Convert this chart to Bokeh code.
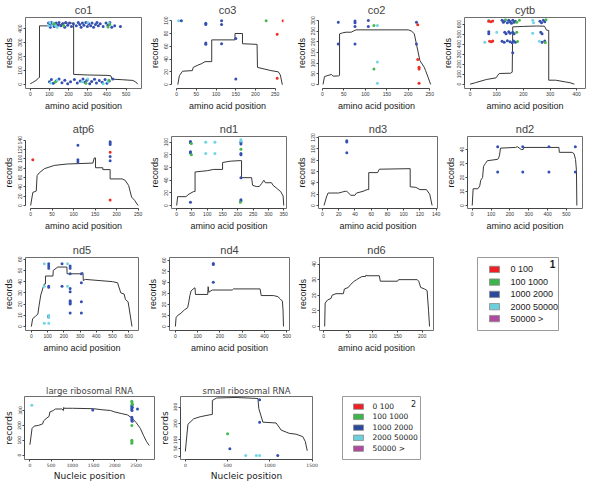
from bokeh.plotting import figure
from bokeh.layouts import row, column
from bokeh.models import Range1d, FixedTicker
from bokeh.core.properties import value
from bokeh.embed import file_html
from bokeh.resources import INLINE

categories = ["0 100", "100 1000", "1000 2000", "2000 50000", "50000 >"]
legend_colors = ["#ee2025", "#3cb54a", "#2c4a9c", "#6ccfdc", "#b04a9f"]
point_colors = ["#ef2d27", "#45b84c", "#3550b0", "#72d5e4", "#b04a9f"]

# ---------------- curves (records along position) ----------------
co1_x = [0, 10, 30, 43, 48, 48, 100, 105, 160, 165, 226, 226, 300, 400, 420, 426, 480, 535, 550, 560]
co1_y = [5, 12, 29, 46, 50, 420, 420, 428, 428, 440, 440, 72, 68, 65, 62, 38, 34, 29, 18, 2]
co3_x = [3, 7, 15, 40, 42, 52, 64, 72, 87, 89, 89, 120, 148, 148, 167, 167, 204, 205, 239, 258, 263, 268]
co3_y = [0, 14, 21, 22, 27, 30, 33, 36, 36, 36, 70, 70, 70, 80, 80, 64, 63, 27, 22, 20, 15, 0]
co2_x = [1.5, 5, 13, 21, 25, 38, 40, 40, 47, 55, 67, 78, 200, 208, 214, 227, 237, 240, 246, 252]
co2_y = [0, 37, 42, 47, 39, 40, 42, 237, 242, 245, 245, 256, 256, 250, 237, 112, 81, 66, 34, 0]
cytb_x = [0, 20, 61, 97, 109, 152, 158, 160, 200, 250, 279, 287, 295, 295, 321, 357, 375, 391]
cytb_y = [0, 15, 47, 63, 107, 110, 120, 573, 578, 582, 580, 540, 538, 40, 40, 23, 15, 0]
atp6_x = [0, 5, 13, 15, 20, 32, 55, 85, 145, 148, 151, 151, 168, 168, 185, 185, 213, 220, 228, 235, 242, 250]
atp6_y = [0, 28, 31, 64, 70, 79, 86, 89, 91, 102, 102, 81, 81, 77, 77, 57, 57, 54, 43, 18, 11, 0]
nd1_x = [0, 3, 30, 40, 55, 60, 60, 100, 120, 150, 150, 175, 210, 212, 212, 245, 248, 260, 270, 278, 285, 290, 310, 315, 330, 340, 348, 350]
nd1_y = [0, 14, 14, 18, 22, 22, 53, 55, 57, 57, 68, 70, 71, 71, 44, 44, 32, 30, 30, 35, 40, 36, 36, 32, 26, 22, 15, 0]
nd3_x = [2, 5, 7, 20, 25, 28, 30, 35, 40, 42, 50, 55, 57, 57, 68, 70, 108, 108, 115, 120, 128, 132, 135]
nd3_y = [0, 15, 22, 22, 24, 25, 25, 18, 18, 22, 25, 28, 28, 58, 58, 64, 65, 33, 32, 28, 28, 20, 0]
nd2_x = [0, 5, 30, 40, 45, 55, 60, 70, 80, 135, 140, 145, 150, 230, 240, 260, 270, 275, 460, 462, 530, 540, 548, 553, 555]
nd2_y = [0, 12, 12, 14, 18, 20, 28, 30, 32, 33, 34, 36, 41, 41.5, 42, 40, 40, 41.5, 41.5, 38, 38, 37, 33, 25, 0]
nd5_x = [0, 8, 24, 40, 48, 58, 73, 80, 87, 87, 133, 135, 163, 219, 220, 302, 318, 320, 332, 500, 531, 551, 571, 580, 596, 606, 620]
nd5_y = [0, 7, 9, 11, 19, 28, 35, 38, 38, 45, 45, 50, 53, 53, 47, 47, 48, 41, 42, 40, 39, 30, 29, 24, 22, 13, 0]
nd4_x = [0, 3, 10, 25, 40, 55, 60, 65, 70, 80, 88, 90, 145, 147, 150, 165, 255, 260, 380, 385, 440, 460, 470, 480, 483, 485]
nd4_y = [0, 8, 10, 12, 15, 17, 22, 28, 32, 34, 35, 29, 29, 36, 31, 33, 33, 34, 34, 28, 28, 27, 25, 23, 15, 0]
nd6_x = [2, 3, 8, 15, 17, 25, 40, 42, 50, 55, 62, 67, 72, 78, 85, 86, 88, 113, 115, 150, 152, 190, 193, 197, 205, 210, 213, 215]
nd6_y = [0, 15, 17, 18, 20, 21, 21, 24, 25, 27, 29, 30, 31, 32, 32, 33, 32.5, 32.5, 29, 29, 30, 30, 29, 25, 24, 23, 10, 0]
large_x = [0, 50, 100, 200, 300, 320, 400, 450, 470, 550, 600, 750, 790, 795, 800, 1000, 1500, 1700, 1900, 2000, 2150, 2300, 2400, 2500, 2600, 2680, 2750, 2812]
large_y = [70, 180, 195, 200, 210, 230, 250, 260, 290, 300, 310, 310, 300, 320, 315, 315, 312, 305, 300, 290, 280, 270, 250, 220, 180, 130, 90, 65]
small_x = [0, 31, 98, 176, 293, 320, 320, 371, 600, 859, 870, 918, 1074, 1100, 1133, 1230, 1310, 1390, 1420, 1443]
small_y = [30, 195, 228, 241, 253, 255, 340, 355, 358, 352, 290, 208, 203, 185, 160, 140, 135, 120, 90, 34]

# ---------------- points per category ----------------
co1_blue_x = [95, 100, 105, 110, 118, 125, 135, 145, 150, 160, 170, 180, 185, 195, 205, 215, 225, 240, 250, 258, 265, 272, 280, 290, 298, 305, 315, 322, 330, 340, 348, 355, 365, 380, 395, 405, 415, 425, 440, 470,
              100, 110, 120, 135, 150, 165, 180, 195, 210, 230, 245, 260, 275, 285, 295, 310, 320, 335, 345, 360, 375, 390, 400, 412, 430]
co1_blue_y = [440, 425, 410, 445, 430, 415, 440, 425, 445, 420, 435, 410, 445, 425, 440, 415, 435, 420, 445, 430, 410, 440, 425, 445, 415, 435, 420, 440, 410, 430, 445, 420, 435, 415, 440, 425, 445, 410, 420, 415,
              20, 35, 8, 25, 40, 12, 30, 5, 20, 35, 10, 25, 40, 15, 30, 5, 22, 38, 10, 28, 15, 35, 8, 25, 40]
co1_cyan_x = [95, 102, 112, 120, 130, 140, 300, 410, 105, 140, 270, 300, 380, 405]
co1_cyan_y = [420, 445, 420, 440, 425, 410, 445, 440, 10, 30, 20, 40, 5, 20]
co1_green_x = [125, 175, 405, 415, 130, 290, 410]
co1_green_y = [435, 420, 412, 430, 18, 8, 30]

co3_cyan_x = [5]
co3_cyan_y = [100]
co3_blue_x = [12, 74, 74, 114, 114, 74, 74, 114, 150, 150]
co3_blue_y = [100, 96, 94, 100, 94, 65, 63, 64, 72, 9]
co3_green_x = [227]
co3_green_y = [100]
co3_red_x = [270, 255, 255]
co3_red_y = [100, 79, 10]

co2_blue_x = [37, 37, 76, 76, 76, 76, 107, 107, 219, 219]
co2_blue_y = [292, 190, 297, 289, 272, 190, 300, 272, 292, 190]
co2_green_x = [120, 120]
co2_green_y = [277, 73]
co2_cyan_x = [128, 128, 128]
co2_cyan_y = [277, 105, 6]
co2_red_x = [222, 222, 225, 225, 225]
co2_red_y = [280, 117, 81, 73, 6]

cytb_red_x = [70, 78, 85, 73, 80, 85]
cytb_red_y = [630, 625, 632, 430, 425, 432]
cytb_blue_x = [120, 125, 130, 140, 145, 150, 155, 160, 165, 170, 262, 268, 275, 280, 70, 70, 130, 135, 145, 150, 160, 165,
               265, 270, 120, 128, 140, 150, 158, 163, 170, 270, 280, 160]
cytb_blue_y = [640, 620, 635, 615, 640, 625, 610, 640, 620, 630, 630, 615, 640, 625, 525, 505, 520, 505, 525, 510, 520, 505,
               520, 505, 430, 420, 435, 425, 415, 432, 420, 420, 432, 315]
cytb_green_x = [133, 175, 185, 285, 175, 178, 282]
cytb_green_y = [645, 620, 640, 645, 520, 428, 418]
cytb_cyan_x = [70, 235, 238, 100, 235, 55, 260]
cytb_cyan_y = [640, 640, 615, 520, 510, 420, 430]

atp6_red_x = [5, 185, 185]
atp6_red_y = [98, 114, 12]
atp6_blue_x = [110, 110, 110, 185, 185, 185, 185, 185]
atp6_blue_y = [129, 98, 94, 137, 134, 131, 105, 96]

nd1_blue_x = [45, 45, 45, 45, 45, 210, 210, 210, 210, 210, 210, 210]
nd1_blue_y = [101, 99, 85, 83, 5, 100, 97, 82, 80, 44, 9, 7]
nd1_green_x = [48, 48, 210, 208]
nd1_green_y = [98, 80, 89, 5]
nd1_cyan_x = [95, 125, 95, 125, 210, 210]
nd1_cyan_y = [100, 100, 82, 82, 104, 102]

nd3_blue_x = [30, 30, 30]
nd3_blue_y = [114, 112, 93]

nd2_blue_x = [135, 268, 407, 547, 135, 268, 407, 547]
nd2_blue_y = [42, 42, 42, 42, 24, 24, 24, 24]

nd5_blue_x = [107, 107, 107, 107, 107, 105, 189, 239, 239, 239, 189, 239, 239, 239, 239, 239, 239, 239, 308, 308, 308, 308]
nd5_blue_y = [56, 54, 52, 36, 35, 9, 56, 54, 52, 47, 36, 34, 31, 23, 22, 21, 20, 12, 47, 39, 22, 12]
nd5_cyan_x = [80, 80, 107, 107, 80, 107, 223, 223]
nd5_cyan_y = [56, 36, 10, 8, 3, 3, 56, 36]

nd4_blue_x = [170, 170, 170]
nd4_blue_y = [57, 56, 40]

large_cyan_x = [45, 2395, 2405, 2398]
large_cyan_y = [335, 335, 318, 305]
large_blue_x = [1480, 2535, 2400, 2410, 2400, 2405, 2400, 2405, 2400, 2410]
large_blue_y = [304, 310, 330, 322, 312, 300, 255, 245, 236, 228]
large_green_x = [2400, 2405, 2420, 2400, 2400, 2405, 2400]
large_green_y = [362, 350, 340, 200, 100, 90, 80]

small_blue_x = [879, 879, 527, 1094]
small_blue_y = [345, 208, 47, 6]
small_green_x = [500]
small_green_y = [138]
small_cyan_x = [715, 840, 879]
small_cyan_y = [6, 6, 6]

# ---------------- ticks ----------------
co1_xt, co1_yt = [0, 100, 200, 300, 400, 500], [0, 100, 200, 300, 400]
co3_xt, co3_yt = [0, 50, 100, 150, 200, 250], [0, 20, 40, 60, 80, 100]
co2_xt, co2_yt = [0, 50, 100, 150, 200, 250], [0, 50, 100, 150, 200, 250, 300]
cytb_xt, cytb_yt = [0, 100, 200, 300, 400], [0, 100, 200, 300, 400, 500, 600]
atp6_xt, atp6_yt = [0, 50, 100, 150, 200, 250], [0, 20, 40, 60, 80, 100, 120, 140]
nd1_xt, nd1_yt = [0, 50, 100, 150, 200, 250, 300, 350], [0, 20, 40, 60, 80, 100]
nd3_xt, nd3_yt = [0, 20, 40, 60, 80, 100, 120, 140], [0, 20, 40, 60, 80, 100, 120]
nd2_xt, nd2_yt = [0, 100, 200, 300, 400, 500], [0, 10, 20, 30, 40]
nd5_xt, nd5_yt = [0, 100, 200, 300, 400, 500, 600], [0, 10, 20, 30, 40, 50, 60]
nd4_xt, nd4_yt = [0, 100, 200, 300, 400, 500], [0, 10, 20, 30, 40, 50, 60]
nd6_xt, nd6_yt = [0, 50, 100, 150, 200], [0, 10, 20, 30, 40]
large_xt, large_yt = [0, 500, 1000, 1500, 2000, 2500], [0, 100, 200, 300]
small_xt, small_yt = [0, 500, 1000, 1500], [0, 50, 100, 200, 300]

BLUE, CYAN, GREEN, RED = 2, 3, 1, 0


def panel(title, cx, cy, pts, xr, yr, xt, yt, w, h, bl, br, bt, bb, box=True, rib=False):
    p = figure(width=w, height=h, x_range=Range1d(*xr), y_range=Range1d(*yr),
               output_backend="svg", toolbar_location=None, title=title,
               min_border_left=bl, min_border_right=br, min_border_top=bt, min_border_bottom=bb)
    p.xgrid.visible = False
    p.ygrid.visible = False
    p.background_fill_color = "white"
    p.border_fill_color = "white"
    p.outline_line_color = "#6e6e6e" if box else None
    p.outline_line_width = 1
    p.line(cx, cy, line_color="#383838", line_width=1)
    for xs, ys, k in pts:
        p.scatter(xs, ys, size=3.0, marker="circle", fill_color=point_colors[k], line_color=None)
    fnt = "DejaVu Sans" if rib else "Liberation Sans"
    p.title.text_font = fnt
    p.title.text_font_size = "8.5px" if rib else "11px"
    p.title.text_font_style = "normal"
    p.title.align = "center"
    p.title.standoff = 1 if rib else 3
    p.xaxis.ticker = FixedTicker(ticks=xt)
    p.yaxis.ticker = FixedTicker(ticks=yt)
    p.xaxis.bounds = (xt[0], xt[-1])
    p.yaxis.bounds = (yt[0], yt[-1])
    p.xaxis.axis_label = "Nucleic position" if rib else "amino acid position"
    p.yaxis.axis_label = "records"
    for ax in p.xaxis + p.yaxis:
        ax.major_tick_out = 2
        ax.major_tick_in = 0
        ax.minor_tick_out = 0
        ax.minor_tick_in = 0
        ax.axis_line_color = "#444444"
        ax.major_tick_line_color = "#444444"
        ax.major_label_text_font = "DejaVu Sans" if rib else "Liberation Sans"
        ax.major_label_text_font_size = "4.5px" if rib else "5px"
        ax.major_label_text_color = "#333333"
        ax.major_label_standoff = 1
        ax.axis_label_standoff = 1 if rib else 2
        ax.axis_label_text_font = fnt
        ax.axis_label_text_font_style = "normal"
        ax.axis_label_text_color = "#1a1a1a"
        ax.axis_label_text_font_size = "9px"
    p.yaxis.major_label_orientation = "vertical"
    return p


def legend_fig(w, h, bl, br, bt, bb, bw, bh, sq_x, tx, ys, num, nx, ny, fnt, fsize, nsize, nstyle):
    p = figure(width=w, height=h, x_range=Range1d(0, bw), y_range=Range1d(bh, 0),
               output_backend="svg", toolbar_location=None,
               x_axis_location=None, y_axis_location=None,
               min_border_left=bl, min_border_right=br, min_border_top=bt, min_border_bottom=bb)
    p.xgrid.visible = False
    p.ygrid.visible = False
    p.outline_line_color = "#9a9a9a"
    p.rect(x=[sq_x] * len(categories), y=ys, width=10, height=8,
           fill_color=legend_colors, line_color="#8a8a8a", line_width=0.8)
    p.text(x=[tx] * len(categories), y=ys, text=categories, text_font=value(fnt),
           text_font_size=fsize, text_baseline="middle", text_align="left", text_color="#1a1a1a")
    p.text(x=[nx], y=[ny], text=[num], text_font=value(fnt), text_font_size=nsize,
           text_font_style=nstyle, text_baseline="middle", text_align="center", text_color="#1a1a1a")
    return p


# Row 1
p_co1 = panel("co1", co1_x, co1_y,
              [(co1_blue_x, co1_blue_y, BLUE), (co1_cyan_x, co1_cyan_y, CYAN), (co1_green_x, co1_green_y, GREEN)],
              (-25, 580), (-29, 480), co1_xt, co1_yt, 146, 118, 25, 5, 17, 30)
p_co3 = panel("co3", co3_x, co3_y,
              [(co3_cyan_x, co3_cyan_y, CYAN), (co3_blue_x, co3_blue_y, BLUE), (co3_green_x, co3_green_y, GREEN), (co3_red_x, co3_red_y, RED)],
              (-13, 271), (-6, 105), co3_xt, co3_yt, 142, 118, 24, 5, 17, 30, box=False)
p_co2 = panel("co2", co2_x, co2_y,
              [(co2_blue_x, co2_blue_y, BLUE), (co2_green_x, co2_green_y, GREEN), (co2_cyan_x, co2_cyan_y, CYAN), (co2_red_x, co2_red_y, RED)],
              (-9, 261), (-19, 314), co2_xt, co2_yt, 151, 118, 30, 5, 17, 30, box=False)
p_cytb = panel("cytb", cytb_x, cytb_y,
               [(cytb_blue_x, cytb_blue_y, BLUE), (cytb_cyan_x, cytb_cyan_y, CYAN), (cytb_green_x, cytb_green_y, GREEN), (cytb_red_x, cytb_red_y, RED)],
               (-21, 433), (-43, 667), cytb_xt, cytb_yt, 153, 118, 25, 7, 17, 30)

# Row 2
p_atp6 = panel("atp6", atp6_x, atp6_y,
               [(atp6_blue_x, atp6_blue_y, BLUE), (atp6_red_x, atp6_red_y, RED)],
               (-12, 258), (-6.4, 148), atp6_xt, atp6_yt, 146, 118, 24, 5, 18, 28, box=False)
p_nd1 = panel("nd1", nd1_x, nd1_y,
              [(nd1_blue_x, nd1_blue_y, BLUE), (nd1_green_x, nd1_green_y, GREEN), (nd1_cyan_x, nd1_cyan_y, CYAN)],
              (-17, 359), (-4.7, 109), nd1_xt, nd1_yt, 145, 118, 25, 5, 18, 28)
p_nd3 = panel("nd3", nd3_x, nd3_y, [(nd3_blue_x, nd3_blue_y, BLUE)],
              (-4.8, 141.6), (-5.3, 121.7), nd3_xt, nd3_yt, 151, 118, 27, 5, 18, 28)
p_nd2 = panel("nd2", nd2_x, nd2_y, [(nd2_blue_x, nd2_blue_y, BLUE)],
              (-25, 585), (-2.1, 49.3), nd2_xt, nd2_yt, 150, 118, 22, 10, 18, 28)

# Row 3
p_nd5 = panel("nd5", nd5_x, nd5_y,
              [(nd5_blue_x, nd5_blue_y, BLUE), (nd5_cyan_x, nd5_cyan_y, CYAN)],
              (-36, 660), (-3.5, 61.5), nd5_xt, nd5_yt, 143, 134, 23, 5, 21, 40)
p_nd4 = panel("nd4", nd4_x, nd4_y, [(nd4_blue_x, nd4_blue_y, BLUE)],
              (-26.5, 512), (-3.6, 62.4), nd4_xt, nd4_yt, 151, 134, 26, 5, 21, 40)
p_nd6 = panel("nd6", nd6_x, nd6_y, [],
              (-8.5, 223), (-2.6, 44.2), nd6_xt, nd6_yt, 144, 134, 24, 5, 21, 40)
p_leg1 = legend_fig(w=154, h=134, bl=39, br=34, bt=9, bb=33, bw=81, bh=92, sq_x=17, tx=33,
                    ys=[15, 31, 46.5, 62, 77], num="1", nx=75, ny=8,
                    fnt="Liberation Sans", fsize="9px", nsize="10px", nstyle="bold")

# Row 4
p_large = panel("large ribosomal RNA", large_x, large_y,
                [(large_cyan_x, large_cyan_y, CYAN), (large_blue_x, large_blue_y, BLUE), (large_green_x, large_green_y, GREEN)],
                (-128, 2935), (-29, 394), large_xt, large_yt, 156, 113, 20, 2, 23, 18, rib=True)
p_small = panel("small ribosomal RNA", small_x, small_y,
                [(small_blue_x, small_blue_y, BLUE), (small_green_x, small_green_y, GREEN), (small_cyan_x, small_cyan_y, CYAN)],
                (-57, 1505), (-19, 364), small_xt, small_yt, 162, 113, 22, 6, 26, 20, rib=True)
p_leg2 = legend_fig(w=274, h=113, bl=24, br=172, bt=12, bb=8, bw=78, bh=93, sq_x=16, tx=30,
                    ys=[15, 30, 46, 61, 77], num="2", nx=71, ny=10,
                    fnt="DejaVu Sans", fsize="7.5px", nsize="8px", nstyle="normal")

layout = column(
    row(p_co1, p_co3, p_co2, p_cytb, spacing=0),
    row(p_atp6, p_nd1, p_nd3, p_nd2, spacing=0),
    row(p_nd5, p_nd4, p_nd6, p_leg1, spacing=0),
    row(p_large, p_small, p_leg2, spacing=0),
    spacing=0,
)

open("out.html", "w").write(file_html(layout, INLINE))
